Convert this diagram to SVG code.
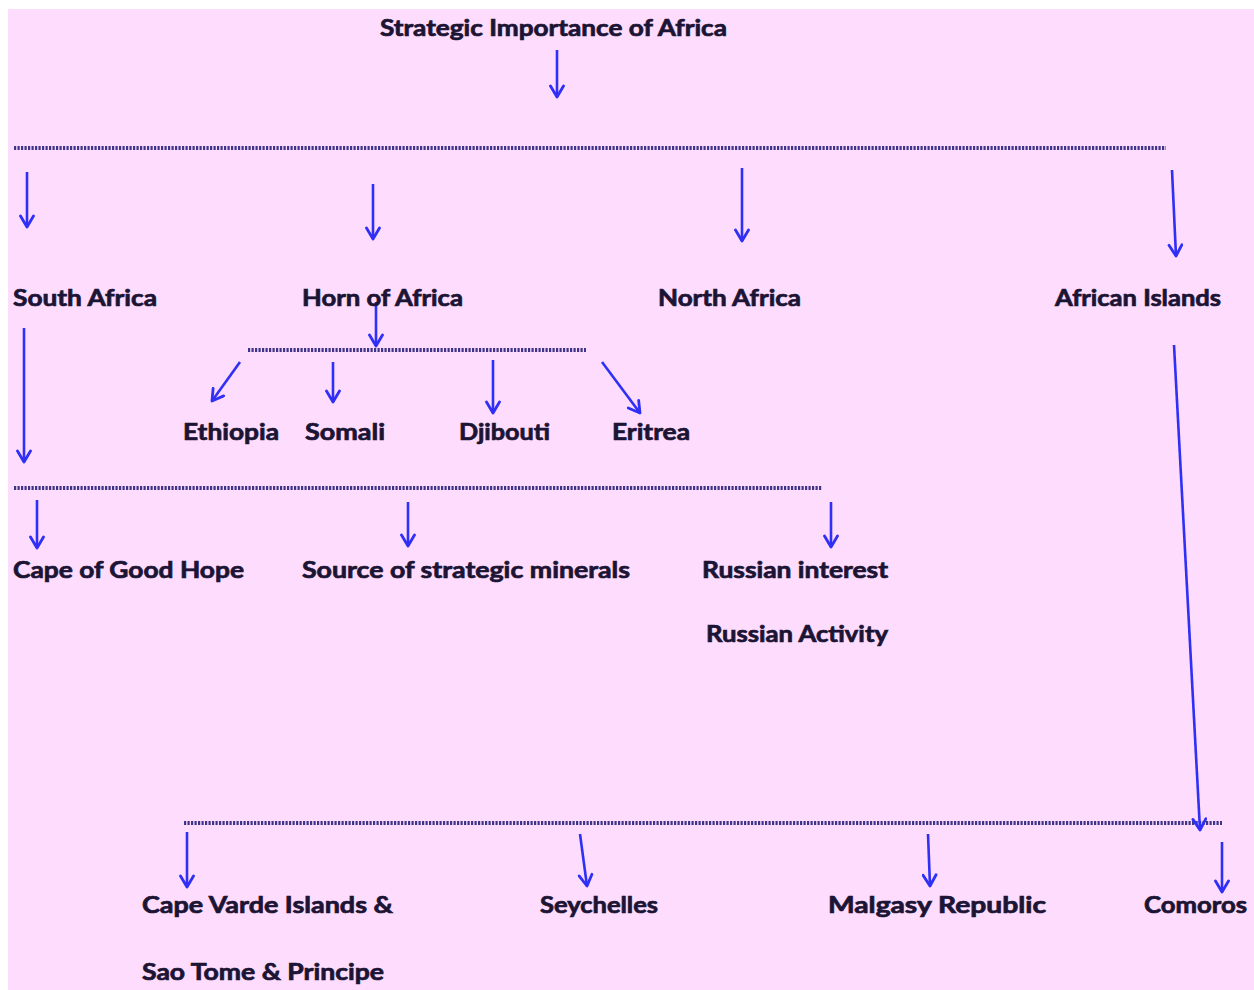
<svg xmlns="http://www.w3.org/2000/svg" width="1254" height="990" viewBox="0 0 1254 990">
<defs>
<style>
.t{font-family:Lato,"Open Sans","Liberation Sans",sans-serif;font-weight:bold;font-size:22px;fill:#1c1434;stroke:#1c1434;stroke-width:0.7;}
.a{stroke:#2f2ff5;stroke-width:2.6;fill:none;marker-end:url(#ah);}
.d{stroke:#3f3488;stroke-width:4;stroke-dasharray:2.2 1.3;fill:none;}
</style>
<marker id="ah" viewBox="0 0 16 16" refX="13" refY="8" markerWidth="16" markerHeight="16" markerUnits="userSpaceOnUse" orient="auto">
<path d="M2,1.5 L13,8 L2,14.5" fill="none" stroke="#2f2ff5" stroke-width="2.8" stroke-linejoin="round" stroke-linecap="round"/>
</marker>
</defs>
<rect x="0" y="0" width="1254" height="990" fill="#ffffff"/>
<rect x="8" y="9" width="1246" height="981" fill="#fedcfd"/>
<g id="connectors">
<line class="d" x1="14" y1="148" x2="1166" y2="148"/>
<line class="d" x1="248" y1="350" x2="586" y2="350"/>
<line class="d" x1="14" y1="488" x2="822" y2="488"/>
<line class="d" x1="184" y1="823" x2="1222" y2="823"/>
<line class="a" x1="557" y1="50" x2="557" y2="97"/>
<line class="a" x1="27" y1="172" x2="27" y2="227"/>
<line class="a" x1="373" y1="184" x2="373" y2="239"/>
<line class="a" x1="742" y1="168" x2="742" y2="241"/>
<line class="a" x1="1172" y1="170" x2="1176" y2="256"/>
<line class="a" x1="376" y1="302" x2="376" y2="346"/>
<line class="a" x1="240" y1="362" x2="212" y2="401"/>
<line class="a" x1="333" y1="362" x2="333" y2="402"/>
<line class="a" x1="493" y1="360" x2="493" y2="413"/>
<line class="a" x1="602" y1="362" x2="640" y2="413"/>
<line class="a" x1="24" y1="328" x2="24" y2="462"/>
<line class="a" x1="37" y1="500" x2="37" y2="548"/>
<line class="a" x1="408" y1="502" x2="408" y2="546"/>
<line class="a" x1="831" y1="502" x2="831" y2="547"/>
<line class="a" x1="1174" y1="345" x2="1200" y2="830"/>
<line class="a" x1="187" y1="832" x2="187" y2="887"/>
<line class="a" x1="580" y1="834" x2="587" y2="886"/>
<line class="a" x1="928" y1="834" x2="930" y2="886"/>
<line class="a" x1="1222" y1="842" x2="1222" y2="892"/>
</g>
<g id="n-title"><text class="t" x="380" y="36" textLength="347" lengthAdjust="spacingAndGlyphs">Strategic Importance of Africa</text></g>
<g id="n-south"><text class="t" x="13" y="306" textLength="144" lengthAdjust="spacingAndGlyphs">South Africa</text></g>
<g id="n-horn"><text class="t" x="302" y="306" textLength="161" lengthAdjust="spacingAndGlyphs">Horn of Africa</text></g>
<g id="n-north"><text class="t" x="658" y="306" textLength="143" lengthAdjust="spacingAndGlyphs">North Africa</text></g>
<g id="n-islands"><text class="t" x="1055" y="306" textLength="166" lengthAdjust="spacingAndGlyphs">African Islands</text></g>
<g id="n-ethiopia"><text class="t" x="183" y="440" textLength="96" lengthAdjust="spacingAndGlyphs">Ethiopia</text></g>
<g id="n-somali"><text class="t" x="305" y="440" textLength="80" lengthAdjust="spacingAndGlyphs">Somali</text></g>
<g id="n-djibouti"><text class="t" x="459" y="440" textLength="91" lengthAdjust="spacingAndGlyphs">Djibouti</text></g>
<g id="n-eritrea"><text class="t" x="612" y="440" textLength="78" lengthAdjust="spacingAndGlyphs">Eritrea</text></g>
<g id="n-cape"><text class="t" x="13" y="578" textLength="231" lengthAdjust="spacingAndGlyphs">Cape of Good Hope</text></g>
<g id="n-minerals"><text class="t" x="302" y="578" textLength="328" lengthAdjust="spacingAndGlyphs">Source of strategic minerals</text></g>
<g id="n-russian"><text class="t" x="702" y="578" textLength="186" lengthAdjust="spacingAndGlyphs">Russian interest</text>
<text class="t" x="706" y="642" textLength="182" lengthAdjust="spacingAndGlyphs">Russian Activity</text></g>
<g id="n-capeverde"><text class="t" x="142" y="913" textLength="251" lengthAdjust="spacingAndGlyphs">Cape Varde Islands &amp;</text>
<text class="t" x="142" y="980" textLength="242" lengthAdjust="spacingAndGlyphs">Sao Tome &amp; Principe</text></g>
<g id="n-seychelles"><text class="t" x="540" y="913" textLength="118" lengthAdjust="spacingAndGlyphs">Seychelles</text></g>
<g id="n-malgasy"><text class="t" x="828" y="913" textLength="218" lengthAdjust="spacingAndGlyphs">Malgasy Republic</text></g>
<g id="n-comoros"><text class="t" x="1144" y="913" textLength="103" lengthAdjust="spacingAndGlyphs">Comoros</text></g>
</svg>
